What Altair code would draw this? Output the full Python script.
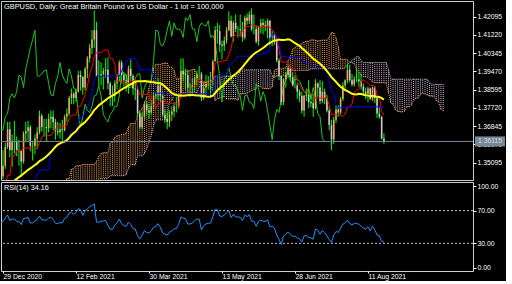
import json
import altair as alt
import pandas as pd

# ---------------- data (bar 0 = 29 Dec 2020, daily bars) ----------------
title_text = "GBPUSD, Daily:  Great Britain Pound vs US Dollar - 1 lot = 100,000"
rsi_label = "RSI(14) 34.16"

# history before the visible window (15 Oct 2020 .. 28 Dec 2020), used by the indicators
pre_high = [1.3070, 1.2960, 1.3000, 1.2960, 1.3175, 1.3125, 1.3105, 1.3070, 1.3085, 1.3070, 1.3010, 1.2980,
            1.2965, 1.3075, 1.3140, 1.3160, 1.3175,
            1.3310, 1.3285, 1.3315, 1.3255, 1.3200,
            1.3220, 1.3255, 1.3290, 1.3290, 1.3305,
            1.3350, 1.3380, 1.3400, 1.3385, 1.3375,
            1.3395, 1.3440, 1.3445, 1.3540, 1.3540,
            1.3440, 1.3430, 1.3540, 1.3400, 1.3305,
            1.3440, 1.3470, 1.3560, 1.3625, 1.3600,
            1.3520, 1.3460, 1.3515, 1.3620, 1.3600]
pre_low = [1.2865, 1.2865, 1.2915, 1.2865, 1.2930, 1.3020, 1.3015, 1.3000, 1.3000, 1.2960, 1.2880, 1.2885,
           1.2855, 1.2915, 1.2915, 1.2985, 1.3110,
           1.3105, 1.3155, 1.3205, 1.3105, 1.3110,
           1.3145, 1.3165, 1.3230, 1.3200, 1.3245,
           1.3255, 1.3290, 1.3320, 1.3320, 1.3305,
           1.3310, 1.3305, 1.3340, 1.3335, 1.3410,
           1.3225, 1.3320, 1.3300, 1.3225, 1.3135,
           1.3290, 1.3300, 1.3425, 1.3510, 1.3440,
           1.3190, 1.3380, 1.3370, 1.3480, 1.3425]
pre_close = [1.2915, 1.2915, 1.2950, 1.2940, 1.3120, 1.3080, 1.3045, 1.3020, 1.3045, 1.2995, 1.2920, 1.2945,
             1.2940, 1.3045, 1.2995, 1.3150, 1.3150,
             1.3190, 1.3275, 1.3235, 1.3125, 1.3190,
             1.3190, 1.3240, 1.3255, 1.3270, 1.3285,
             1.3320, 1.3355, 1.3365, 1.3355, 1.3320,
             1.3350, 1.3390, 1.3365, 1.3460, 1.3440,
             1.3380, 1.3360, 1.3365, 1.3275, 1.3225,
             1.3315, 1.3450, 1.3515, 1.3585, 1.3515,
             1.3445, 1.3385, 1.3490, 1.3555, 1.3445]

# visible bars 29 Dec 2020 .. 20 Aug 2021
high = [1.3570, 1.3605, 1.3705, 1.3705, 1.3645, 1.3710, 1.3635, 1.3620, 1.3570, 1.3660,
        1.3705, 1.3710, 1.3690, 1.3615, 1.3645, 1.3680, 1.3760, 1.3745, 1.3720, 1.3720,
        1.3745, 1.3760, 1.3760, 1.3720, 1.3705, 1.3700, 1.3715, 1.3740, 1.3770, 1.3830,
        1.3865, 1.3850, 1.3865, 1.3950, 1.3950, 1.3925, 1.3970, 1.4020, 1.4080, 1.4145,
        1.4240, 1.4185, 1.4000, 1.3990, 1.3965, 1.4010, 1.4015, 1.3900, 1.3880, 1.3905,
        1.3935, 1.4000, 1.4000, 1.3945, 1.3935, 1.3975, 1.4005, 1.3935, 1.3905, 1.3875,
        1.3760, 1.3750, 1.3805, 1.3805, 1.3790, 1.3810, 1.3850, 1.3860, 1.3915, 1.3890,
        1.3850, 1.3765, 1.3750, 1.3760, 1.3780, 1.3800, 1.3825, 1.3840, 1.4010, 1.4010,
        1.3960, 1.3955, 1.3890, 1.3915, 1.3930, 1.3950, 1.3975, 1.3945, 1.3900, 1.3930,
        1.3925, 1.3945, 1.4005, 1.4165, 1.4180, 1.4170, 1.4095, 1.4115, 1.4160, 1.4235,
        1.4215, 1.4190, 1.4220, 1.4165, 1.4220, 1.4185, 1.4215, 1.4225, 1.4235, 1.4250,
        1.4220, 1.4170, 1.4165, 1.4200, 1.4200, 1.4190, 1.4200, 1.4195, 1.4140, 1.4135,
        1.4110, 1.4010, 1.3930, 1.3915, 1.3945, 1.3975, 1.3965, 1.3945, 1.3930, 1.3890,
        1.3860, 1.3850, 1.3835, 1.3865, 1.3905, 1.3840, 1.3840, 1.3910, 1.3895, 1.3905,
        1.3900, 1.3865, 1.3835, 1.3780, 1.3715, 1.3730, 1.3785, 1.3785, 1.3825, 1.3895,
        1.3910, 1.3985, 1.3980, 1.3935, 1.3925, 1.3960, 1.3945, 1.3935, 1.3890, 1.3870,
        1.3875, 1.3870, 1.3875, 1.3875, 1.3825, 1.3775, 1.3735, 1.3650]
low = [1.3430, 1.3480, 1.3575, 1.3535, 1.3490, 1.3555, 1.3540, 1.3495, 1.3450, 1.3505,
       1.3610, 1.3615, 1.3565, 1.3520, 1.3550, 1.3575, 1.3645, 1.3660, 1.3635, 1.3610,
       1.3655, 1.3675, 1.3665, 1.3620, 1.3640, 1.3625, 1.3610, 1.3660, 1.3705, 1.3735,
       1.3790, 1.3790, 1.3800, 1.3845, 1.3855, 1.3835, 1.3855, 1.3915, 1.3990, 1.4030,
       1.4060, 1.3920, 1.3880, 1.3880, 1.3860, 1.3915, 1.3860, 1.3780, 1.3780, 1.3800,
       1.3860, 1.3900, 1.3890, 1.3875, 1.3850, 1.3840, 1.3900, 1.3835, 1.3810, 1.3730,
       1.3670, 1.3670, 1.3715, 1.3740, 1.3720, 1.3740, 1.3765, 1.3815, 1.3810, 1.3800,
       1.3730, 1.3700, 1.3670, 1.3680, 1.3710, 1.3730, 1.3750, 1.3770, 1.3820, 1.3900,
       1.3860, 1.3835, 1.3825, 1.3840, 1.3855, 1.3880, 1.3905, 1.3805, 1.3810, 1.3825,
       1.3860, 1.3820, 1.3880, 1.3995, 1.4080, 1.4040, 1.4005, 1.4045, 1.4080, 1.4140,
       1.4110, 1.4090, 1.4135, 1.4110, 1.4115, 1.4090, 1.4100, 1.4170, 1.4175, 1.4140,
       1.4125, 1.4080, 1.4070, 1.4130, 1.4125, 1.4140, 1.4105, 1.4070, 1.4070, 1.4075,
       1.3990, 1.3905, 1.3785, 1.3785, 1.3870, 1.3915, 1.3900, 1.3875, 1.3865, 1.3815,
       1.3800, 1.3745, 1.3730, 1.3805, 1.3770, 1.3775, 1.3730, 1.3765, 1.3825, 1.3790,
       1.3795, 1.3790, 1.3750, 1.3665, 1.3570, 1.3600, 1.3700, 1.3730, 1.3740, 1.3805,
       1.3855, 1.3890, 1.3895, 1.3875, 1.3875, 1.3895, 1.3875, 1.3860, 1.3830, 1.3815,
       1.3800, 1.3810, 1.3805, 1.3795, 1.3725, 1.3720, 1.3620, 1.3600]
close = [1.3495, 1.3585, 1.3670, 1.3570, 1.3610, 1.3610, 1.3570, 1.3565, 1.3515, 1.3650,
         1.3660, 1.3680, 1.3590, 1.3590, 1.3625, 1.3655, 1.3735, 1.3680, 1.3680, 1.3675,
         1.3720, 1.3730, 1.3705, 1.3660, 1.3655, 1.3670, 1.3665, 1.3730, 1.3745, 1.3820,
         1.3840, 1.3820, 1.3850, 1.3930, 1.3920, 1.3870, 1.3960, 1.4010, 1.4060, 1.4100,
         1.4145, 1.3925, 1.3925, 1.3935, 1.3950, 1.3955, 1.3890, 1.3835, 1.3830, 1.3890,
         1.3925, 1.3990, 1.3930, 1.3905, 1.3890, 1.3960, 1.3925, 1.3865, 1.3860, 1.3745,
         1.3680, 1.3730, 1.3790, 1.3760, 1.3750, 1.3780, 1.3830, 1.3835, 1.3880, 1.3830,
         1.3740, 1.3720, 1.3705, 1.3740, 1.3755, 1.3780, 1.3780, 1.3830, 1.3950, 1.3935,
         1.3930, 1.3870, 1.3870, 1.3880, 1.3915, 1.3935, 1.3935, 1.3820, 1.3870, 1.3895,
         1.3900, 1.3905, 1.3995, 1.4145, 1.4140, 1.4075, 1.4070, 1.4095, 1.4145, 1.4190,
         1.4115, 1.4180, 1.4150, 1.4150, 1.4145, 1.4110, 1.4205, 1.4190, 1.4220, 1.4150,
         1.4150, 1.4090, 1.4160, 1.4180, 1.4170, 1.4165, 1.4190, 1.4110, 1.4120, 1.4095,
         1.4000, 1.3925, 1.3800, 1.3910, 1.3930, 1.3965, 1.3920, 1.3880, 1.3880, 1.3850,
         1.3830, 1.3760, 1.3830, 1.3835, 1.3800, 1.3795, 1.3770, 1.3890, 1.3870, 1.3805,
         1.3850, 1.3820, 1.3760, 1.3690, 1.3620, 1.3715, 1.3765, 1.3750, 1.3815, 1.3880,
         1.3905, 1.3955, 1.3905, 1.3885, 1.3910, 1.3910, 1.3900, 1.3875, 1.3850, 1.3840,
         1.3865, 1.3815, 1.3870, 1.3820, 1.3745, 1.3730, 1.3625, 1.36115]

tick_bars = [0, 32, 64, 96, 128, 160]
tick_labels = ["29 Dec 2020", "12 Feb 2021", "30 Mar 2021", "13 May 2021", "28 Jun 2021", "11 Aug 2021"]
price_ticks = [1.35095, 1.35970, 1.36845, 1.37720, 1.38595, 1.39470, 1.40345, 1.41220, 1.42095]
rsi_ticks = [0, 30, 70, 100]
rsi_levels = [30, 70]
current_price = 1.36115

# ---------------- indicators (Ichimoku 9/26/52, SMA 34, RSI 14) ----------------
n_pre = len(pre_close)
idx_all = list(range(-n_pre, len(close)))
H = pd.Series(pre_high + high, index=idx_all)
L = pd.Series(pre_low + low, index=idx_all)
C = pd.Series(pre_close + close, index=idx_all)
O = C.shift(1)
O.iloc[0] = C.iloc[0]

tenkan = (H.rolling(9).max() + L.rolling(9).min()) / 2
kijun = (H.rolling(26).max() + L.rolling(26).min()) / 2
span_a = (tenkan + kijun) / 2
span_b = (H.rolling(52).max() + L.rolling(52).min()) / 2
span_a.index = span_a.index + 26
span_b.index = span_b.index + 26
sma = C.rolling(34).mean()
d = C.diff()
ag = d.clip(lower=0).ewm(alpha=1 / 14, adjust=False).mean()
al = (-d).clip(lower=0).ewm(alpha=1 / 14, adjust=False).mean()
rsi = 100 - 100 / (1 + ag / al)

vis = [i for i in idx_all if i >= 0]
candles = pd.DataFrame({
    "idx": vis,
    "o": [O[i] for i in vis], "h": [H[i] for i in vis],
    "l": [L[i] for i in vis], "c": [C[i] for i in vis],
})
candles["kind"] = ["bull" if c >= o else "bear" for o, c in zip(candles.o, candles.c)]

line_idx = [i for i in idx_all if i >= -1]
lines = pd.DataFrame({
    "idx": line_idx,
    "tenkan": [tenkan[i] for i in line_idx],
    "kijun": [kijun[i] for i in line_idx],
    "sma": [sma[i] for i in line_idx],
    "rsi": [rsi[i] for i in line_idx],
})
chikou = pd.DataFrame({"idx": [i - 26 for i in idx_all if i >= 25],
                       "v": [C[i] for i in idx_all if i >= 25]})
cloud_idx = [t for t in span_b.index if t >= 25 and pd.notna(span_b[t])]
cloud = pd.DataFrame({"idx": cloud_idx,
                      "a": [span_a[t] for t in cloud_idx],
                      "b": [span_b[t] for t in cloud_idx]})
cloud["kumo"] = ["up" if a >= b else "down" for a, b in zip(cloud.a, cloud.b)]

# ---------------- chart ----------------
FONT = "Liberation Sans"
FS = 6.8
W = 472
xscale = alt.Scale(domain=[-0.877, 206.05], nice=False, zero=False)
yscale = alt.Scale(domain=[1.34266, 1.42848], nice=False, zero=False)
yaxis = alt.Axis(orient="right", values=price_ticks, format=".5f", title=None)
X = lambda: alt.X("idx:Q", scale=xscale, axis=None)

base_cloud = alt.Chart(cloud)
cloud_rules = base_cloud.mark_rule(strokeDash=[1, 1], strokeWidth=1, clip=True).encode(
    x=X(), y=alt.Y("a:Q", scale=yscale, axis=yaxis), y2="b:Q",
    color=alt.Color("kumo:N", scale=alt.Scale(domain=["up", "down"], range=["#F4A460", "#D8BFD8"]), legend=None))
edge_a = base_cloud.mark_line(strokeDash=[1, 1], strokeWidth=1, color="#F4A460", clip=True).encode(
    x=X(), y=alt.Y("a:Q", scale=yscale, axis=yaxis))
edge_b = base_cloud.mark_line(strokeDash=[1, 1], strokeWidth=1, color="#D8BFD8", clip=True).encode(
    x=X(), y=alt.Y("b:Q", scale=yscale, axis=yaxis))

chik = alt.Chart(chikou).mark_line(color="#1FC41F", strokeWidth=1, clip=True).encode(
    x=X(), y=alt.Y("v:Q", scale=yscale, axis=yaxis))

bc = alt.Chart(candles)
wicks = bc.mark_rule(color="#00FF00", strokeWidth=1, clip=True).encode(
    x=X(), y=alt.Y("l:Q", scale=yscale, axis=yaxis), y2="h:Q")
bodies = bc.mark_rule(strokeWidth=1.6, clip=True).encode(
    x=X(), y=alt.Y("o:Q", scale=yscale, axis=yaxis), y2="c:Q",
    color=alt.Color("kind:N", scale=alt.Scale(domain=["bull", "bear"], range=["#A8F8A8", "#00FF00"]), legend=None))

lc = alt.Chart(lines)
tenkan_l = lc.mark_line(color="#FF0000", strokeWidth=1, clip=True).encode(
    x=X(), y=alt.Y("tenkan:Q", scale=yscale, axis=yaxis))
kijun_l = lc.mark_line(color="#0000FF", strokeWidth=1, clip=True).encode(
    x=X(), y=alt.Y("kijun:Q", scale=yscale, axis=yaxis))
sma_l = lc.mark_line(color="#FFFF00", strokeWidth=2, clip=True).encode(
    x=X(), y=alt.Y("sma:Q", scale=yscale, axis=yaxis))

one = pd.DataFrame({"p": [current_price]})
price_line = alt.Chart(one).mark_rule(color="#778899", strokeWidth=1).encode(
    y=alt.Y("p:Q", scale=yscale, axis=yaxis))
price_box = alt.Chart(one).mark_rect(color="#778899", yOffset=-5, y2Offset=5).encode(
    x=alt.value(474), x2=alt.value(504), y=alt.Y("p:Q", scale=yscale, axis=yaxis), y2="p:Q")
price_txt = alt.Chart(one).mark_text(font=FONT, fontSize=FS, color="#D0D8E0", align="center", baseline="middle").encode(
    x=alt.value(489), y=alt.Y("p:Q", scale=yscale, axis=yaxis), text=alt.value(f"{current_price:.5f}"))
title_m = alt.Chart(one).mark_text(font=FONT, fontSize=7.4, color="white", align="left", baseline="middle").encode(
    x=alt.value(3), y=alt.value(6), text=alt.value(title_text))

main = alt.layer(cloud_rules, edge_a, edge_b, chik, wicks, bodies, tenkan_l, kijun_l, sma_l,
                 price_line, price_box, price_txt, title_m).properties(width=W, height=179)

label_expr = f"{json.dumps(tick_labels)}[indexof({json.dumps(tick_bars)}, datum.value)]"
rsi_x = alt.X("idx:Q", scale=xscale,
              axis=alt.Axis(values=tick_bars, labelExpr=label_expr, title=None, labelAlign="left",
                            labelPadding=0, tickSize=2, labelOverlap=False, labelFlush=False))
rsi_scale = alt.Scale(domain=[-3.7, 104.9], nice=False, zero=False)
rsi_axis = alt.Axis(orient="right", values=rsi_ticks, format=".2f", title=None)
lev = alt.Chart(pd.DataFrame({"lv": rsi_levels})).mark_rule(color="#C0C0C0", strokeDash=[2, 2], strokeWidth=1).encode(
    y=alt.Y("lv:Q", scale=rsi_scale, axis=rsi_axis))
rsi_line = alt.Chart(lines).mark_line(color="#1E90FF", strokeWidth=1, clip=True).encode(
    x=rsi_x, y=alt.Y("rsi:Q", scale=rsi_scale, axis=rsi_axis))
rsi_txt = alt.Chart(one).mark_text(font=FONT, fontSize=7.2, color="white", align="left", baseline="middle").encode(
    x=alt.value(3), y=alt.value(6), text=alt.value(rsi_label))
rsi_panel = alt.layer(lev, rsi_line, rsi_txt).properties(width=W, height=89)

chart = alt.vconcat(main, rsi_panel, spacing=2, bounds="flush").properties(
    background="black", padding={"left": 0, "top": 0, "right": 0, "bottom": 0}
).configure_view(stroke="#D0D0D0", strokeWidth=1).configure_axis(
    labelFont=FONT, labelFontSize=FS, labelColor="white", tickColor="white", tickSize=3,
    labelPadding=1, domain=False, grid=False
)

chart.save("out.html", embed_options={"renderer": "svg", "actions": False})
